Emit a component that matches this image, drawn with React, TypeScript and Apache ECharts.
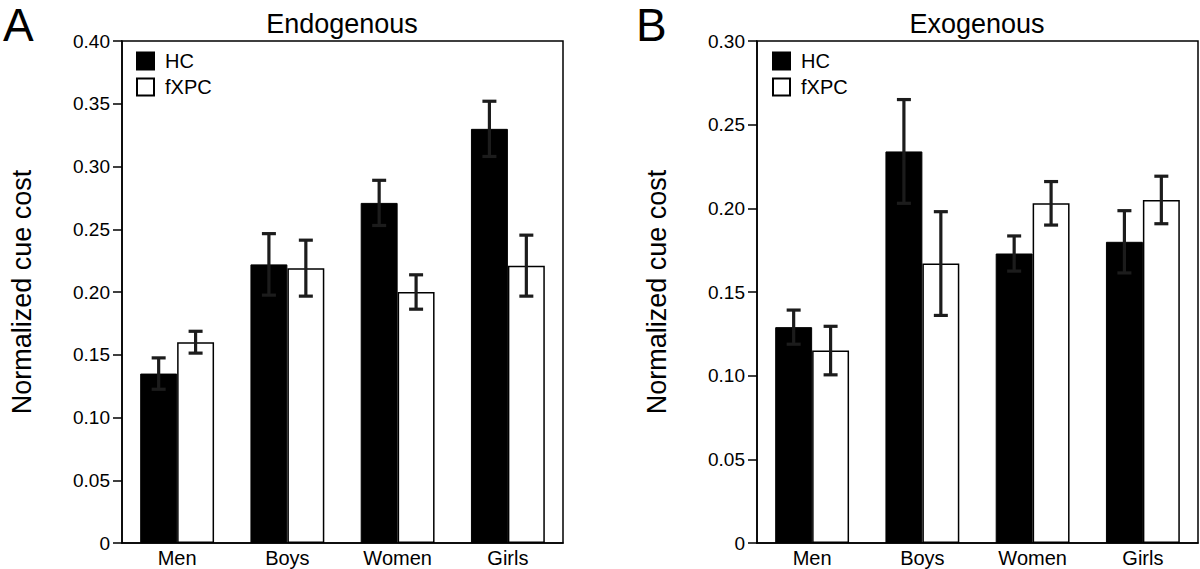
import React, { useEffect, useRef } from "react";
import * as echarts from "echarts";

const categories = ["Men", "Boys", "Women", "Girls"];

const endoHC = [0.135, 0.222, 0.271, 0.33];
const endoHCErr = [0.0125, 0.0245, 0.018, 0.022];
const endoFXPC = [0.16, 0.219, 0.2, 0.221];
const endoFXPCErr = [0.0087, 0.0223, 0.0137, 0.0243];

const exoHC = [0.129, 0.234, 0.173, 0.18];
const exoHCErr = [0.0102, 0.031, 0.0105, 0.0186];
const exoFXPC = [0.115, 0.167, 0.203, 0.205];
const exoFXPCErr = [0.0145, 0.031, 0.013, 0.0142];

const endoTicks = { max: 0.4, interval: 0.05 };
const exoTicks = { max: 0.3, interval: 0.05 };

const FONT = "'Liberation Sans', Arial, Helvetica, sans-serif";
const GAP_FRACTION = 0.33;

function errData(vals: number[], errs: number[], side: number) {
  return vals.map((v, i) => [i, v - errs[i], v + errs[i], side]);
}

const renderErr = (params: any, api: any) => {
  const idx = api.value(0);
  const lo = api.value(1);
  const hi = api.value(2);
  const side = api.value(3);
  const band = api.size([1, 0])[0];
  const bw = (band * (1 - GAP_FRACTION)) / 2;
  const p1 = api.coord([idx, lo]);
  const p2 = api.coord([idx, hi]);
  const x = p1[0] + (side * bw) / 2;
  const cap = 7;
  const st = { stroke: "#1c1c1c", lineWidth: 3.2 };
  return {
    type: "group",
    children: [
      { type: "line", shape: { x1: x, y1: p1[1], x2: x, y2: p2[1] }, style: st },
      { type: "line", shape: { x1: x - cap, y1: p1[1], x2: x + cap, y2: p1[1] }, style: st },
      { type: "line", shape: { x1: x - cap, y1: p2[1], x2: x + cap, y2: p2[1] }, style: st },
    ],
  };
};

function yAxis(gridIndex: number, t: { max: number; interval: number }) {
  return {
    type: "value",
    gridIndex,
    min: 0,
    max: t.max,
    interval: t.interval,
    name: "Normalized cue cost",
    nameLocation: "middle",
    nameGap: 87,
    nameTextStyle: { fontSize: 27, color: "#000", fontFamily: FONT },
    axisLine: { show: true, lineStyle: { color: "#000", width: 1.5 } },
    axisTick: { show: true, inside: false, length: 9, lineStyle: { color: "#000", width: 1.5 } },
    axisLabel: {
      fontSize: 19,
      color: "#000",
      fontFamily: FONT,
      margin: 12,
      formatter: (v: number) => (v === 0 ? "0" : v.toFixed(2)),
    },
    splitLine: { show: false },
  };
}

function xAxis(gridIndex: number) {
  return {
    type: "category",
    gridIndex,
    data: categories,
    axisLine: { show: true, lineStyle: { color: "#000", width: 1.5 } },
    axisTick: { show: false },
    axisLabel: { fontSize: 20, color: "#000", fontFamily: FONT, margin: 5 },
  };
}

function barSeries(name: string, data: number[], idx: number, filled: boolean) {
  return {
    type: "bar",
    name,
    xAxisIndex: idx,
    yAxisIndex: idx,
    data,
    barGap: "0%",
    barCategoryGap: GAP_FRACTION * 100 + "%",
    itemStyle: filled
      ? { color: "#000", borderColor: "#000", borderWidth: 1 }
      : { color: "#fff", borderColor: "#000", borderWidth: 1.5 },
  };
}

function errSeries(name: string, data: number[][], idx: number) {
  return {
    type: "custom",
    name,
    xAxisIndex: idx,
    yAxisIndex: idx,
    data,
    encode: { x: 0, y: [1, 2] },
    renderItem: renderErr,
    z: 10,
  };
}

function legend(left: number) {
  return {
    data: ["HC", "fXPC"],
    orient: "vertical",
    left,
    top: 46,
    icon: "rect",
    itemWidth: 17,
    itemHeight: 17,
    itemGap: 6,
    selectedMode: false,
    textStyle: { fontSize: 20, color: "#000", fontFamily: FONT, padding: [0, 0, 0, 6] },
  };
}

function panelTitle(text: string, left: number, top: number, size: number) {
  return {
    text,
    left,
    top,
    padding: 0,
    textStyle: { fontSize: size, fontWeight: "normal", color: "#000", fontFamily: FONT },
  };
}

export default function App() {
  const ref = useRef<HTMLDivElement>(null);
  useEffect(() => {
    if (!ref.current) return;
    const chart = echarts.init(ref.current, null, { renderer: "svg" });
    chart.setOption({
      animation: false,
      backgroundColor: "#fff",
      textStyle: { fontFamily: FONT },
      title: [
        panelTitle("A", 3, 2, 46),
        panelTitle("B", 636, 2, 46),
      ],
      grid: [
        { left: 122, right: 637, top: 41, bottom: 26, show: true, borderColor: "#000", borderWidth: 1.5, backgroundColor: "transparent" },
        { left: 757, right: 2, top: 41, bottom: 26, show: true, borderColor: "#000", borderWidth: 1.5, backgroundColor: "transparent" },
      ],
      legend: [legend(131), legend(767)],
      xAxis: [xAxis(0), xAxis(1)],
      yAxis: [yAxis(0, endoTicks), yAxis(1, exoTicks)],
      graphic: [
        { type: "text", x: 342, y: 24, style: { text: "Endogenous", fontSize: 27, fill: "#000", fontFamily: FONT, align: "center", verticalAlign: "middle" } },
        { type: "text", x: 977, y: 24, style: { text: "Exogenous", fontSize: 27, fill: "#000", fontFamily: FONT, align: "center", verticalAlign: "middle" } },
      ],
      series: [
        barSeries("HC", endoHC, 0, true),
        barSeries("fXPC", endoFXPC, 0, false),
        barSeries("HC", exoHC, 1, true),
        barSeries("fXPC", exoFXPC, 1, false),
        errSeries("errA1", errData(endoHC, endoHCErr, -1), 0),
        errSeries("errA2", errData(endoFXPC, endoFXPCErr, 1), 0),
        errSeries("errB1", errData(exoHC, exoHCErr, -1), 1),
        errSeries("errB2", errData(exoFXPC, exoFXPCErr, 1), 1),
      ],
    });
    return () => chart.dispose();
  }, []);
  return (
    <div
      ref={ref}
      style={{ position: "fixed", left: 0, top: 0, width: 1200, height: 569, background: "#fff" }}
    />
  );
}
